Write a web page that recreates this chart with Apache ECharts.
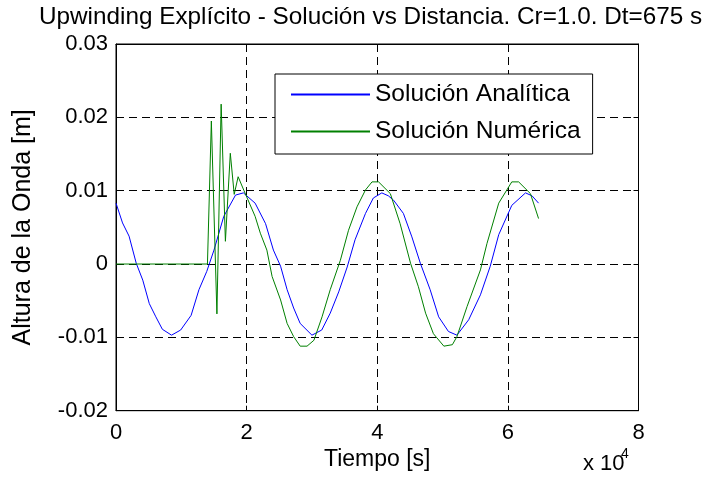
<!DOCTYPE html>
<html>
<head>
<meta charset="utf-8">
<script src="https://cdn.jsdelivr.net/npm/echarts@6/dist/echarts.min.js"></script>
<style>
html,body{margin:0;padding:0;background:#fff;}
#chart{width:707px;height:486px;}
</style>
</head>
<body>
<div id="chart"></div>
<script>
// Tiempo in units of 10^4 s
var anaX = [0.00,0.10,0.20,0.31,0.41,0.51,0.61,0.71,0.85,0.99,1.15,1.27,1.39,1.50,1.65,1.83,1.95,2.13,2.29,2.41,2.52,2.62,2.72,2.82,3.00,3.15,3.28,3.41,3.54,3.66,3.82,3.94,4.07,4.17,4.25,4.40,4.53,4.66,4.81,4.94,5.09,5.22,5.40,5.58,5.73,5.86,6.06,6.27,6.37,6.47];
var anaY = [0.0083,0.0056,0.0038,0.0001,-0.0022,-0.0054,-0.0072,-0.0089,-0.0097,-0.0090,-0.0070,-0.0035,-0.0010,0.0019,0.0065,0.0094,0.0097,0.0083,0.0055,0.0019,-0.0003,-0.0035,-0.0060,-0.0081,-0.0097,-0.0090,-0.0067,-0.0038,-0.0004,0.0033,0.0069,0.0090,0.0097,0.0093,0.0087,0.0069,0.0037,0.0001,-0.0035,-0.0072,-0.0092,-0.0097,-0.0076,-0.0042,-0.0003,0.0040,0.0080,0.0097,0.0093,0.0083];
var numX = [0.00,1.40,1.46,1.545,1.61,1.675,1.75,1.81,1.87,1.96,2.13,2.21,2.31,2.39,2.52,2.62,2.72,2.82,2.925,3.03,3.155,3.28,3.435,3.56,3.69,3.82,3.92,4.02,4.20,4.35,4.51,4.63,4.74,4.86,5.02,5.15,5.22,5.375,5.58,5.68,5.86,6.06,6.165,6.345,6.47];
var numY = [0,0,0.0195,-0.0068,0.0218,0.0031,0.0151,0.0095,0.0119,0.0100,0.0065,0.0042,0.0019,-0.0017,-0.0049,-0.0081,-0.0099,-0.0112,-0.0112,-0.0104,-0.0072,-0.0035,0.0005,0.0046,0.0078,0.0101,0.0112,0.0112,0.0096,0.0055,0.0001,-0.0031,-0.0067,-0.0095,-0.0112,-0.0110,-0.0099,-0.0058,-0.0008,0.0028,0.0083,0.0112,0.0112,0.0096,0.0062];
var xTicks = ['0','2','4','6','8'];
var yTicks = ['-0.02','-0.01','0','0.01','0.02','0.03'];
var seriesNames = ['Solución Analítica','Solución Numérica'];

function pairs(xs, ys){ return xs.map(function(x,i){ return [x, ys[i]]; }); }
var FONT = 'Arial, "Liberation Sans", Helvetica, sans-serif';
var chart = echarts.init(document.getElementById('chart'), null, {renderer:'canvas'});
function axisCommon(){
  return {
    axisLine:{show:true,onZero:false,lineStyle:{color:'#000',width:1}},
    axisTick:{show:true,inside:true,length:5,lineStyle:{color:'#000'}}
  };
}
var option = {
  backgroundColor:'#fff',
  animation:false,
  title:{
    text:'Upwinding Explícito - Solución vs Distancia. Cr=1.0. Dt=675 s',
    left:39, top:5, padding:0,
    textStyle:{fontFamily:FONT,fontSize:24.3,fontWeight:'normal',color:'#000'}
  },
  legend:{
    orient:'vertical', left:275, top:74,
    padding:[8,12,10,15],
    backgroundColor:'#fff', borderColor:'#000', borderWidth:1,
    itemWidth:79, itemHeight:24, itemGap:12,
    itemStyle:{opacity:0},
    textStyle:{fontFamily:FONT,fontSize:24.5,color:'#000',lineHeight:24},
    data:seriesNames
  },
  grid:{left:116,right:68.5,top:44,bottom:75.3,show:true,borderColor:'#000',borderWidth:1,backgroundColor:'#fff'},
  xAxis:[
    Object.assign({
      type:'value',min:0,max:8,interval:2,
      name:'Tiempo [s]',nameLocation:'middle',nameGap:24,
      nameTextStyle:{fontFamily:FONT,fontSize:23,color:'#000'},
      axisLabel:{fontFamily:FONT,fontSize:22,color:'#000',margin:11,formatter:function(v){var i=Math.round(v/2);return xTicks[i];}},
      splitLine:{show:true,lineStyle:{color:'#000',type:[8,5],width:1}}
    },axisCommon()),
    Object.assign({
      type:'value',min:0,max:8,interval:2,position:'top',
      axisLabel:{show:false},splitLine:{show:false}
    },axisCommon())
  ],
  yAxis:[
    Object.assign({
      type:'value',min:-0.02,max:0.03,interval:0.01,
      name:'Altura de la Onda [m]',nameLocation:'middle',nameGap:80,
      nameTextStyle:{fontFamily:FONT,fontSize:25,color:'#000'},
      axisLabel:{fontFamily:FONT,fontSize:22,color:'#000',margin:8,formatter:function(v){var i=Math.round((v+0.02)/0.01);return yTicks[i];}},
      splitLine:{show:true,lineStyle:{color:'#000',type:[8,5],width:1}}
    },axisCommon()),
    Object.assign({
      type:'value',min:-0.02,max:0.03,interval:0.01,position:'right',
      axisLabel:{show:false},splitLine:{show:false}
    },axisCommon())
  ],
  graphic:[
    {type:'text', left:583, top:453,
     style:{text:'x 10',fontFamily:FONT,fontSize:22,fill:'#000'}},
    {type:'text', left:621, top:447,
     style:{text:'4',fontFamily:FONT,fontSize:14,fill:'#000'}}
  ],
  series:[
    {name:seriesNames[0],type:'line',data:pairs(anaX,anaY),symbol:'none',showSymbol:false,
     lineStyle:{color:'#0000ff',width:1},itemStyle:{color:'#0000ff'},z:3},
    {name:seriesNames[1],type:'line',data:pairs(numX,numY),symbol:'none',showSymbol:false,
     lineStyle:{color:'#008000',width:1},itemStyle:{color:'#008000'},z:4}
  ]
};
chart.setOption(option);
</script>
</body>
</html>
